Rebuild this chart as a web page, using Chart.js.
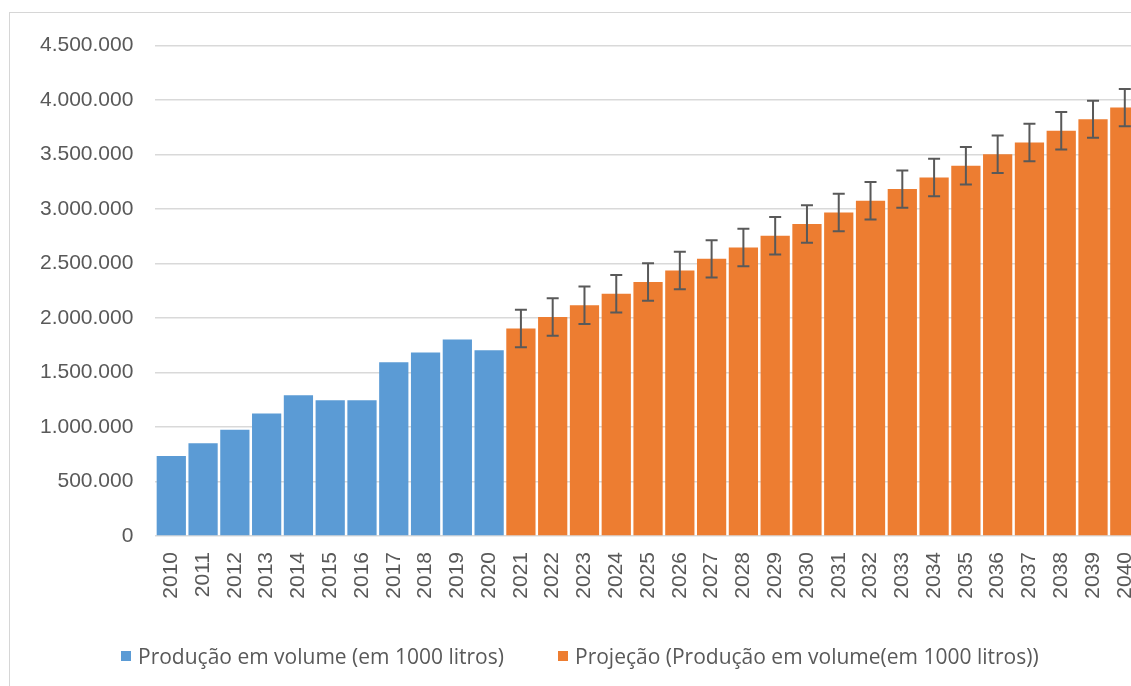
<!DOCTYPE html>
<html>
<head>
<meta charset="utf-8">
<script src="https://cdn.jsdelivr.net/npm/chart.js@4.4.0/dist/chart.umd.min.js"></script>
<style>
  html, body { margin: 0; padding: 0; background: #fff; overflow: hidden; }
  body { width: 1131px; height: 686px; position: relative; }
  .frame { position: absolute; left: 9px; top: 12px; width: 1200px; height: 720px; border: 1px solid #d6d6d6; }
  .chart-box { position: absolute; left: 9px; top: 11px; width: 1157px; height: 675px; }
  .legend { position: absolute; top: 643px; left: 0; height: 26px; font-family: 'Open Sans', sans-serif; font-size: 21px; color: #595959; }
  .legend-item { position: absolute; top: 0; white-space: nowrap; line-height: 26px; }
  .legend-item i { position: absolute; left: 0; top: 8px; width: 10px; height: 10px; }
  .legend-item span { position: absolute; left: 17px; top: 0; }
</style>
</head>
<body>
<div class="frame"></div>
<div class="chart-box"><canvas id="chart"></canvas></div>
<div class="legend" id="legend"></div>
<script>
// Data
const years = ['2010', '2011', '2012', '2013', '2014', '2015', '2016', '2017', '2018', '2019', '2020',
  '2021', '2022', '2023', '2024', '2025', '2026', '2027', '2028', '2029', '2030',
  '2031', '2032', '2033', '2034', '2035', '2036', '2037', '2038', '2039', '2040'];
const production = [733000, 850000, 974000, 1124000, 1292000, 1246000, 1246000, 1594000, 1683000, 1802000, 1705000];
const projection = [1903000, 2010000, 2117000, 2224000, 2330000, 2437000, 2543000, 2648000, 2755000, 2862000,
  2969000, 3076000, 3183000, 3290000, 3397000, 3504000, 3611000, 3718000, 3824000, 3931000];
const projectionError = [172000, 172000, 172000, 172000, 172000, 172000, 172000, 172000, 172000, 172000,
  172000, 172000, 172000, 172000, 172000, 172000, 172000, 172000, 170000, 170000];
const yTicks = [0, 500000, 1000000, 1500000, 2000000, 2500000, 3000000, 3500000, 4000000, 4500000];
const seriesNames = ['Produção em volume (em 1000 litros)', 'Projeção (Produção em volume(em 1000 litros))'];
const seriesColors = ['#5b9bd5', '#ed7d31'];

const offset = production.length;
const prodData = years.map((y, i) => i < offset ? production[i] : null);
const projData = years.map((y, i) => i >= offset ? projection[i - offset] : null);

function fmt(v) {
  return String(v).replace(/\B(?=(\d{3})+(?!\d))/g, '.');
}

// Error bars on the projection series
const errorBars = {
  id: 'errorBars',
  afterDatasetsDraw(chart) {
    const meta = chart.getDatasetMeta(1);
    const yScale = chart.scales.y;
    const ctx = chart.ctx;
    ctx.save();
    ctx.strokeStyle = '#595959';
    ctx.lineWidth = 2;
    meta.data.forEach((bar, i) => {
      if (i < offset) return;
      const v = projection[i - offset];
      const e = projectionError[i - offset];
      const x = bar.x;
      const top = yScale.getPixelForValue(v + e);
      const bot = yScale.getPixelForValue(v - e);
      ctx.beginPath();
      ctx.moveTo(x, top); ctx.lineTo(x, bot);
      ctx.moveTo(x - 6, top); ctx.lineTo(x + 6, top);
      ctx.moveTo(x - 6, bot); ctx.lineTo(x + 6, bot);
      ctx.stroke();
    });
    ctx.restore();
  }
};

const chart = new Chart(document.getElementById('chart'), {
  type: 'bar',
  data: {
    labels: years,
    datasets: [
      {
        label: seriesNames[0],
        data: prodData,
        backgroundColor: seriesColors[0],
        grouped: false,
        categoryPercentage: 1,
        barPercentage: 0.92,
      },
      {
        label: seriesNames[1],
        data: projData,
        backgroundColor: seriesColors[1],
        grouped: false,
        categoryPercentage: 1,
        barPercentage: 0.92,
      },
    ],
  },
  plugins: [errorBars],
  options: {
    responsive: true,
    maintainAspectRatio: false,
    animation: false,
    layout: { padding: { left: 0, right: 0, top: 17, bottom: 0 } },
    plugins: {
      tooltip: { enabled: false },
      legend: { display: false },
    },
    scales: {
      x: {
        grid: { display: false, drawTicks: false },
        border: { display: false },
        afterFit: (scale) => { scale.height = 150; },
        ticks: {
          minRotation: 90,
          maxRotation: 90,
          autoSkip: false,
          padding: 16,
          color: '#595959',
          font: { family: 'Liberation Sans', size: 21 },
        },
      },
      y: {
        min: 0,
        max: 4500000,
        afterBuildTicks: (scale) => { scale.ticks = yTicks.map(v => ({ value: v })); },
        afterFit: (scale) => { scale.width = 146.4; },
        border: { display: false },
        grid: { color: '#d9d9d9', lineWidth: 1.5, drawTicks: false },
        ticks: {
          padding: 22,
          color: '#595959',
          font: { family: 'Liberation Sans', size: 21 },
          callback: v => fmt(v),
        },
      },
    },
  },
});

// Legend below the chart
const legendEl = document.getElementById('legend');
const legendLeft = [121, 558];
chart.data.datasets.forEach((ds, i) => {
  const item = document.createElement('div');
  item.className = 'legend-item';
  item.style.left = legendLeft[i] + 'px';
  item.innerHTML = `<i style="background:${ds.backgroundColor}"></i><span>${ds.label}</span>`;
  legendEl.appendChild(item);
});
</script>
</body>
</html>
